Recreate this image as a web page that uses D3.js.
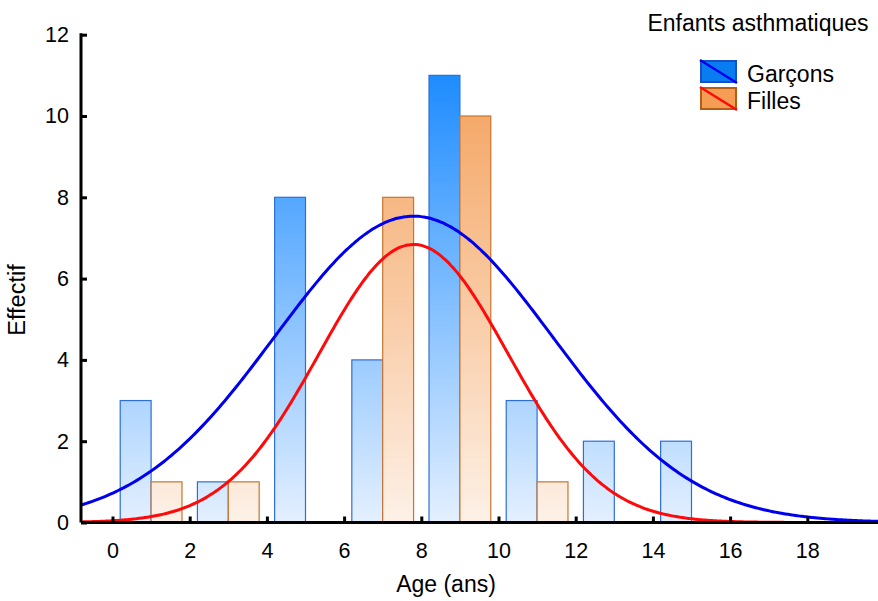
<!DOCTYPE html>
<html>
<head>
<meta charset="utf-8">
<script src="https://cdn.jsdelivr.net/npm/d3@7"></script>
<style>
  body { margin: 0; background: #fff; }
  text { font-family: "Liberation Sans", Arial, sans-serif; }
</style>
</head>
<body>
<svg></svg>
<script>
// bins of width 2, start of each bin
let binStarts = [0, 2, 4, 6, 8, 10, 12, 14]
let garcons = [3, 1, 8, 4, 11, 3, 2, 2]
let filles = [1, 1, 0, 8, 10, 1, 0, 0]
let seriesNames = ['Garçons', 'Filles']
let xTicks = [0, 2, 4, 6, 8, 10, 12, 14, 16, 18]
let yTicks = [0, 2, 4, 6, 8, 10, 12]
// fitted normal curves: mean, sd, count
let fitGarcons = [7.8, 3.6, 34]
let fitFilles = [7.8, 2.45, 21]
let binWidth = 2

let width = 878
let height = 601
let plotLeft = 81
let plotRight = 878
let plotTop = 34.7
let plotBottom = 522.5

let svg = d3.select('svg').attr('width', width).attr('height', height)

let xScale = d3.scaleLinear()
  .domain([(plotLeft - 112.5) / 38.6, (plotRight - 112.5) / 38.6])
  .range([plotLeft, plotRight])

let yScale = d3.scaleLinear()
  .domain([0, 12])
  .range([plotBottom, plotTop])

let defs = svg.append('defs')
let makeGrad = (id, c1, c2) => {
  let g = defs.append('linearGradient')
    .attr('id', id)
    .attr('gradientUnits', 'userSpaceOnUse')
    .attr('x1', 0).attr('x2', 0)
    .attr('y1', yScale(11)).attr('y2', yScale(0))
  g.append('stop').attr('offset', '0%').attr('stop-color', c1)
  g.append('stop').attr('offset', '100%').attr('stop-color', c2)
}
makeGrad('gradBlue', '#1e8cff', '#e4f0ff')
makeGrad('gradOrange', '#f4a25e', '#fdf1e7')

// bars
let drawBars = (values, offset, fill, stroke) => {
  svg.append('g')
    .selectAll('rect')
    .data(values.map((v, i) => ({ x: binStarts[i], v: v })).filter(d => d.v > 0))
    .enter()
    .append('rect')
    .attr('x', d => xScale(d.x + offset))
    .attr('width', d => xScale(d.x + offset + 0.8) - xScale(d.x + offset))
    .attr('y', d => yScale(d.v))
    .attr('height', d => yScale(0) - yScale(d.v))
    .attr('fill', fill)
    .attr('stroke', stroke)
    .attr('stroke-width', 1.2)
}
drawBars(garcons, 0.2, 'url(#gradBlue)', '#2e6fd6')
drawBars(filles, 1.0, 'url(#gradOrange)', '#c8742e')

// normal curves
let curvePoints = (fit) => {
  let pts = []
  let dom = xScale.domain()
  for (let i = 0; i <= 300; i++) {
    let x = dom[0] + (dom[1] - dom[0]) * i / 300
    let z = (x - fit[0]) / fit[1]
    let y = fit[2] * binWidth / (fit[1] * Math.sqrt(2 * Math.PI)) * Math.exp(-0.5 * z * z)
    pts.push([x, y])
  }
  return pts
}
let line = d3.line().x(d => xScale(d[0])).y(d => yScale(d[1])).curve(d3.curveMonotoneX)

svg.append('path')
  .attr('d', line(curvePoints(fitGarcons)))
  .attr('fill', 'none')
  .attr('stroke', '#0000ee')
  .attr('stroke-width', 3)

svg.append('path')
  .attr('d', line(curvePoints(fitFilles)))
  .attr('fill', 'none')
  .attr('stroke', '#ff0a0a')
  .attr('stroke-width', 3)

// axes
let xAxis = d3.axisBottom(xScale).tickValues(xTicks).tickSizeInner(-6).tickSizeOuter(0).tickPadding(20)
let yAxis = d3.axisLeft(yScale).tickValues(yTicks).tickSizeInner(-6).tickSizeOuter(0).tickPadding(12)

let gx = svg.append('g')
  .attr('transform', 'translate(0,' + plotBottom + ')')
  .call(xAxis)
let gy = svg.append('g')
  .attr('transform', 'translate(' + plotLeft + ',0)')
  .call(yAxis)

gx.select('.domain').remove()
gy.select('.domain').remove()
svg.append('line')
  .attr('x1', plotLeft).attr('x2', plotRight)
  .attr('y1', plotBottom).attr('y2', plotBottom)
  .attr('stroke', '#000').attr('stroke-width', 3)
svg.append('line')
  .attr('x1', plotLeft).attr('x2', plotLeft)
  .attr('y1', plotTop - 1.5).attr('y2', plotBottom)
  .attr('stroke', '#000').attr('stroke-width', 3)

;[gx, gy].forEach(g => {
  g.selectAll('.tick line').attr('stroke', '#000').attr('stroke-width', 3)
  g.selectAll('.tick text').attr('font-size', 21.5).attr('fill', '#000')
    .style('font-family', '"Liberation Sans", Arial, sans-serif')
})

svg.append('text')
  .attr('x', 446)
  .attr('y', 592)
  .attr('text-anchor', 'middle')
  .attr('font-size', 23)
  .text('Age (ans)')

svg.append('text')
  .attr('transform', 'translate(25,300) rotate(-90)')
  .attr('text-anchor', 'middle')
  .attr('font-size', 23.5)
  .text('Effectif')

// legend
svg.append('text')
  .attr('x', 758)
  .attr('y', 31)
  .attr('text-anchor', 'middle')
  .attr('font-size', 23)
  .text('Enfants asthmatiques')

let legendFill = ['#0a7cf2', '#f59c55']
let legendStroke = ['#1450c8', '#b55d15']
let legendLine = ['#0000ee', '#ff0a0a']
seriesNames.forEach((name, i) => {
  let y0 = 61 + i * 27
  svg.append('rect')
    .attr('x', 701).attr('y', y0)
    .attr('width', 35).attr('height', 21)
    .attr('fill', legendFill[i])
    .attr('stroke', legendStroke[i])
    .attr('stroke-width', 2)
  svg.append('line')
    .attr('x1', 700).attr('y1', y0 - 1)
    .attr('x2', 737).attr('y2', y0 + 22)
    .attr('stroke', legendLine[i])
    .attr('stroke-width', 2.5)
  svg.append('text')
    .attr('x', 747).attr('y', y0 + 21)
    .attr('font-size', 23)
    .text(name)
})
</script>
</body>
</html>
